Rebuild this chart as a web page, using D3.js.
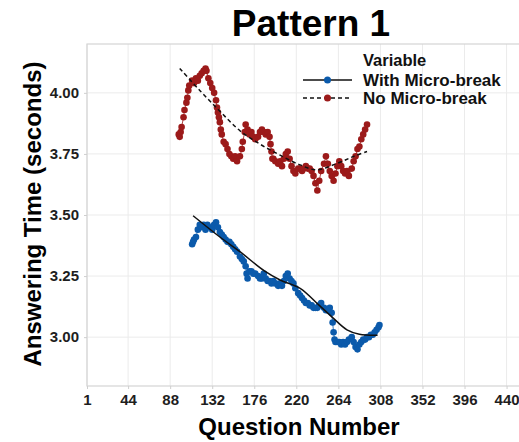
<!DOCTYPE html>
<html>
<head>
<meta charset="utf-8">
<script src="https://cdn.jsdelivr.net/npm/d3@7/dist/d3.min.js"></script>
<style>
  html, body { margin: 0; padding: 0; background: #ffffff; }
  svg { display: block; font-family: "Liberation Sans", Arial, sans-serif; }
</style>
</head>
<body>
<svg id="chart" width="519" height="442"></svg>
<script>
// Average answering time per question, with and without micro-breaks
const noBreakQ = [97,98,99,100,102,103,105,106,107,108,111,113,115,117,119,121,123,125,126,128,
  130,132,134,136,137,138,139,140,141,142,144,146,148,150,152,154,156,158,161,163,
  164,166,167,169,171,173,175,177,180,182,184,186,188,190,192,193,194,195,196,198,
  201,203,205,207,209,211,213,215,217,219,222,224,226,228,230,232,234,236,238,240,
  242,244,246,249,251,253,255,257,259,261,263,265,267,269,271,273,275,278,280,282,
  284,286,288,290,292,294];
const noBreakV = [3.83,3.82,3.84,3.86,3.90,3.93,3.96,3.98,4.01,4.03,4.05,4.04,4.06,4.05,4.07,4.08,4.09,4.10,4.09,4.06,
  4.04,4.02,4.00,3.97,3.94,3.92,3.90,3.88,3.85,3.83,3.80,3.79,3.77,3.75,3.74,3.73,3.74,3.72,3.74,3.77,
  3.80,3.84,3.87,3.85,3.83,3.84,3.82,3.81,3.82,3.84,3.85,3.84,3.83,3.84,3.82,3.79,3.76,3.73,3.73,3.72,
  3.71,3.72,3.70,3.73,3.75,3.76,3.73,3.70,3.68,3.67,3.69,3.69,3.68,3.69,3.70,3.69,3.69,3.68,3.66,3.63,
  3.60,3.64,3.68,3.71,3.74,3.71,3.68,3.66,3.64,3.67,3.70,3.72,3.70,3.68,3.67,3.68,3.66,3.69,3.72,3.74,
  3.77,3.78,3.81,3.83,3.85,3.87];

const withBreakQ = [111,112,113,115,117,119,121,123,125,127,129,132,134,136,138,140,142,144,146,148,
  150,152,154,156,158,161,163,165,167,168,169,171,173,175,177,180,182,184,186,188,
  190,192,194,196,198,201,203,205,207,209,211,213,215,217,219,222,224,226,228,230,
  232,234,236,238,240,242,244,246,249,251,253,255,257,258,259,260,261,263,265,267,
  269,271,273,275,278,280,282,284,286,288,290,292,294,296,298,300,302,304,306,307];
const withBreakV = [3.38,3.39,3.40,3.41,3.44,3.46,3.45,3.46,3.44,3.46,3.45,3.44,3.46,3.47,3.45,3.43,3.42,3.41,3.40,3.39,
  3.39,3.38,3.37,3.36,3.35,3.33,3.32,3.31,3.29,3.26,3.24,3.27,3.27,3.26,3.26,3.25,3.24,3.24,3.26,3.24,
  3.23,3.23,3.22,3.23,3.22,3.21,3.22,3.21,3.23,3.25,3.26,3.24,3.23,3.22,3.20,3.18,3.17,3.16,3.15,3.14,
  3.14,3.13,3.13,3.12,3.12,3.12,3.13,3.14,3.12,3.11,3.11,3.12,3.10,3.06,3.02,2.99,2.98,2.98,2.98,2.97,
  2.98,2.97,2.98,2.99,3.00,2.98,2.96,2.95,2.97,2.98,2.99,2.99,3.00,3.00,3.01,3.01,3.02,3.03,3.04,3.05];

// Smoothed trends
const noBreakTrendQ = [98,119,140,161,182,203,224,241,262,280,294];
const noBreakTrendV = [4.10,4.01,3.925,3.845,3.79,3.745,3.705,3.685,3.71,3.74,3.76];
const withBreakTrendQ = [112,140,161,187,203,224,244,258,273,286,305];
const withBreakTrendV = [3.497,3.41,3.35,3.27,3.234,3.20,3.13,3.08,3.03,3.012,3.008];

const xTicks = [1,44,88,132,176,220,264,308,352,396,440];
const yTicks = [3.00,3.25,3.50,3.75,4.00];
const seriesNames = ["With Micro-break","No Micro-break"];

const blue = "#0b5aab";
const red = "#9c1a1a";

const svg = d3.select("#chart");
const panelLeft = 87, panelRight = 519, panelTop = 44, panelBottom = 386;

const x = d3.scaleLinear().domain([1, 453]).range([panelLeft, panelRight]);
const y = d3.scaleLinear().domain([2.8, 4.2]).range([panelBottom, panelTop]);

// Grid
const grid = svg.append("g");
grid.selectAll("line.vx").data(xTicks).join("line")
  .attr("x1", d => x(d)).attr("x2", d => x(d))
  .attr("y1", panelTop).attr("y2", panelBottom)
  .attr("stroke", "#ebebeb").attr("stroke-width", 1);
grid.selectAll("line.hy").data(yTicks).join("line")
  .attr("x1", panelLeft).attr("x2", panelRight)
  .attr("y1", d => y(d)).attr("y2", d => y(d))
  .attr("stroke", "#ebebeb").attr("stroke-width", 1);

// Panel border
svg.append("rect")
  .attr("x", panelLeft).attr("y", panelTop)
  .attr("width", panelRight - panelLeft + 20).attr("height", panelBottom - panelTop)
  .attr("fill", "none").attr("stroke", "#d4d4d4").attr("stroke-width", 1.2);

// Axes
const xAxis = svg.append("g").attr("transform", `translate(0,${panelBottom})`)
  .call(d3.axisBottom(x).tickValues(xTicks).tickSize(3).tickPadding(5).tickFormat(d3.format("d")));
const yAxis = svg.append("g").attr("transform", `translate(${panelLeft},0)`)
  .call(d3.axisLeft(y).tickValues(yTicks).tickSize(3).tickPadding(5).tickFormat(d3.format(".2f")));
[xAxis, yAxis].forEach(a => {
  a.select(".domain").remove();
  a.selectAll(".tick line").attr("stroke", "#cfcfcf");
  a.selectAll(".tick text")
    .attr("fill", "#1e1e1e")
    .style("font-family", "'Liberation Sans', Arial, sans-serif")
    .style("font-size", "15px").style("font-weight", "bold");
});

// Series
function drawSeries(qs, vs, color) {
  const pts = qs.map((q, i) => [q, vs[i]]);
  const g = svg.append("g");
  g.append("path").datum(pts)
    .attr("d", d3.line().x(d => x(d[0])).y(d => y(d[1])))
    .attr("fill", "none").attr("stroke", color).attr("stroke-width", 1).attr("stroke-opacity", 0.8);
  g.selectAll("circle").data(pts).join("circle")
    .attr("cx", d => x(d[0])).attr("cy", d => y(d[1]))
    .attr("r", 3.3).attr("fill", color);
}
drawSeries(noBreakQ, noBreakV, red);
drawSeries(withBreakQ, withBreakV, blue);

function drawTrend(qs, vs, dash) {
  const pts = qs.map((q, i) => [q, vs[i]]);
  svg.append("path").datum(pts)
    .attr("d", d3.line().curve(d3.curveCatmullRom.alpha(0.5)).x(d => x(d[0])).y(d => y(d[1])))
    .attr("fill", "none").attr("stroke", "#111").attr("stroke-width", 1.5)
    .attr("stroke-dasharray", dash);
}
drawTrend(noBreakTrendQ, noBreakTrendV, "4,3");
drawTrend(withBreakTrendQ, withBreakTrendV, null);

// Legend
const legend = svg.append("g").attr("font-weight", "bold").attr("fill", "#111");
legend.append("text").attr("x", 363).attr("y", 66)
  .style("font-size", "16.5px").text("Variable");
const rows = [
  { name: seriesNames[0], color: blue, dash: null, y: 80 },
  { name: seriesNames[1], color: red, dash: "4,3", y: 98 }
];
rows.forEach(r => {
  legend.append("line").attr("x1", 303).attr("x2", 352).attr("y1", r.y).attr("y2", r.y)
    .attr("stroke", "#111").attr("stroke-width", 1.5).attr("stroke-dasharray", r.dash);
  legend.append("circle").attr("cx", 327.5).attr("cy", r.y).attr("r", 3.5).attr("fill", r.color);
  legend.append("text").attr("x", 363).attr("y", r.y + 6)
    .style("font-size", "17px").text(r.name);
});

// Titles
svg.append("text").attr("x", 311).attr("y", 36).attr("text-anchor", "middle")
  .style("font-size", "37px").style("font-weight", "bold").attr("fill", "#000").text("Pattern 1");
svg.append("text").attr("x", 299).attr("y", 435).attr("text-anchor", "middle")
  .style("font-size", "24px").style("font-weight", "bold").attr("fill", "#000").text("Question Number");
svg.append("text").attr("transform", "translate(41,214) rotate(-90)").attr("text-anchor", "middle")
  .style("font-size", "24px").style("font-weight", "bold").attr("fill", "#000").text("Answering Time (seconds)");
</script>
</body>
</html>
